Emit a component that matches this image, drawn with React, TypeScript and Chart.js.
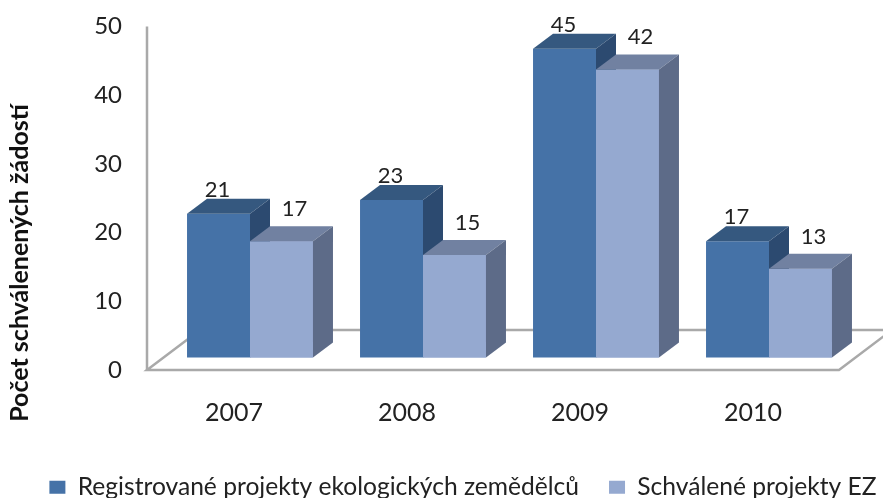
import React, { useEffect, useRef } from "react";
import { Chart, registerables } from "chart.js";

Chart.register(...registerables);

const categories = ["2007", "2008", "2009", "2010"];
const registeredProjects = [21, 23, 45, 17];
const approvedProjects = [17, 15, 42, 13];
const yTickValues = [0, 10, 20, 30, 40, 50];
const seriesLabels = [
  "Registrované projekty ekologických zemědělců",
  "Schválené projekty EZ",
];
const axisTitle = "Počet schválenených žádostí";

const FRONT = ["#4572A7", "#95A9D0"];
const TOP = ["#35587F", "#7181A1"];
const SIDE = ["#2C4A70", "#5D6B88"];
const DEPTH = { dx: 20, dy: -15 };
const FLOOR = { dx: 53, dy: -40 };
const SHIFT = { dx: -16.5, dy: 12 };
const FONT = "Lato";
const LEGEND_CENTER = 463;

const threeD = {
  id: "threeD",
  beforeLayout(chart: any) {
    const lg = chart.legend;
    if (lg && !lg.__patched) {
      const orig = lg.update.bind(lg);
      lg.update = (mw: number, mh: number, m: any) => orig(mw + 200, mh, m);
      lg.__patched = true;
    }
  },
  afterLayout(chart: any) {
    const lg = chart.legend;
    if (lg) {
      lg.left = LEGEND_CENTER - 540;
      lg.right = LEGEND_CENTER + 540;
    }
  },
  beforeDatasetsDraw(chart: any) {
    const { ctx, chartArea, scales } = chart;
    const y = scales.y;
    const fx0 = chartArea.left + SHIFT.dx;
    const fx1 = chartArea.right + SHIFT.dx;
    const fy = y.getPixelForValue(0) + SHIFT.dy;
    ctx.save();
    ctx.strokeStyle = "#A9A9A9";
    ctx.lineWidth = 2.5;
    ctx.beginPath();
    ctx.moveTo(fx0, fy);
    ctx.lineTo(fx1, fy);
    ctx.lineTo(fx1 + FLOOR.dx, fy + FLOOR.dy);
    ctx.lineTo(fx0 + FLOOR.dx, fy + FLOOR.dy);
    ctx.closePath();
    ctx.stroke();
    ctx.beginPath();
    ctx.moveTo(fx0, y.getPixelForValue(50) + SHIFT.dy);
    ctx.lineTo(fx0, fy);
    ctx.stroke();
    ctx.restore();
  },
  afterDatasetsDraw(chart: any) {
    const { ctx } = chart;
    const metas = [chart.getDatasetMeta(0), chart.getDatasetMeta(1)];
    const n = metas[0].data.length;
    ctx.save();
    for (let i = 0; i < n; i++) {
      metas.forEach((meta: any, d: number) => {
        const bar = meta.data[i];
        const { x, y, base, width } = bar.getProps(["x", "y", "base", "width"], true);
        const l = x - width / 2;
        const r = x + width / 2;
        if (d === 1) bar.draw(ctx);
        ctx.fillStyle = TOP[d];
        ctx.beginPath();
        ctx.moveTo(l, y);
        ctx.lineTo(l + DEPTH.dx, y + DEPTH.dy);
        ctx.lineTo(r + DEPTH.dx, y + DEPTH.dy);
        ctx.lineTo(r, y);
        ctx.closePath();
        ctx.fill();
        ctx.fillStyle = SIDE[d];
        ctx.beginPath();
        ctx.moveTo(r, y);
        ctx.lineTo(r + DEPTH.dx, y + DEPTH.dy);
        ctx.lineTo(r + DEPTH.dx, base + DEPTH.dy);
        ctx.lineTo(r, base);
        ctx.closePath();
        ctx.fill();
      });
    }
    ctx.fillStyle = "#222";
    ctx.font = `22px ${FONT}`;
    ctx.textAlign = "center";
    ctx.textBaseline = "alphabetic";
    metas.forEach((meta: any, d: number) => {
      const values = chart.data.datasets[d].data;
      meta.data.forEach((bar: any, i: number) => {
        const { x, y } = bar.getProps(["x", "y"], true);
        const lx = d === 0 ? x - 1 : x + 13;
        const ly = d === 0 ? y - 17 : y - 25;
        ctx.fillText(String(values[i]), lx, ly);
      });
    });
    ctx.restore();
  },
  afterDraw(chart: any) {
    const { ctx } = chart;
    ctx.save();
    ctx.translate(20, 263);
    ctx.rotate(-Math.PI / 2);
    ctx.font = `bold 25px ${FONT}`;
    ctx.fillStyle = "#111";
    ctx.textAlign = "center";
    ctx.textBaseline = "middle";
    ctx.fillText(axisTitle, 0, 0);
    ctx.restore();
  },
};

export default function App() {
  const ref = useRef<HTMLCanvasElement | null>(null);
  useEffect(() => {
    if (!ref.current) return;
    const chart = new Chart(ref.current, {
      type: "bar",
      data: {
        labels: categories,
        datasets: [
          {
            label: seriesLabels[0],
            data: registeredProjects,
            backgroundColor: FRONT[0],
            borderWidth: 0,
          },
          {
            label: seriesLabels[1],
            data: approvedProjects,
            backgroundColor: FRONT[1],
            borderWidth: 0,
          },
        ],
      },
      options: {
        animation: false,
        responsive: false,
        devicePixelRatio: 1,
        layout: { padding: { left: 0, right: 27.5, top: 14, bottom: -11.5 } },
        datasets: { bar: { barPercentage: 1, categoryPercentage: 0.728 } },
        plugins: {
          tooltip: { enabled: false },
          legend: {
            position: "bottom",
            labels: {
              font: { family: FONT, size: 24.6 },
              color: "#222",
              boxWidth: 16,
              boxHeight: 13,
              padding: 30,
            },
          },
        },
        scales: {
          x: {
            grid: { display: false, drawTicks: false },
            border: { display: false },
            ticks: {
              font: { family: FONT, size: 25 },
              color: "#222",
              labelOffset: -16,
              padding: 40,
            },
            afterFit(s: any) {
              s.height = 86.9;
            },
          },
          y: {
            min: 0,
            max: 50,
            grid: {
              display: true,
              color: "rgba(0,0,0,0)",
              drawOnChartArea: false,
              drawTicks: true,
              tickLength: 41.5,
            },
            border: { display: false },
            afterBuildTicks(s: any) {
              s.ticks = yTickValues.map((v) => ({ value: v }));
            },
            ticks: {
              font: { family: FONT, size: 24 },
              color: "#222",
              padding: 0,
              labelOffset: 12,
            },
            afterFit(s: any) {
              s.width = 163.5;
            },
          },
        },
      },
      plugins: [threeD],
    });
    return () => chart.destroy();
  }, []);
  return (
    <div style={{ position: "fixed", left: 0, top: 0, width: 883, height: 498, background: "#fff" }}>
      <canvas ref={ref} width={883} height={498} style={{ display: "block" }} />
    </div>
  );
}
